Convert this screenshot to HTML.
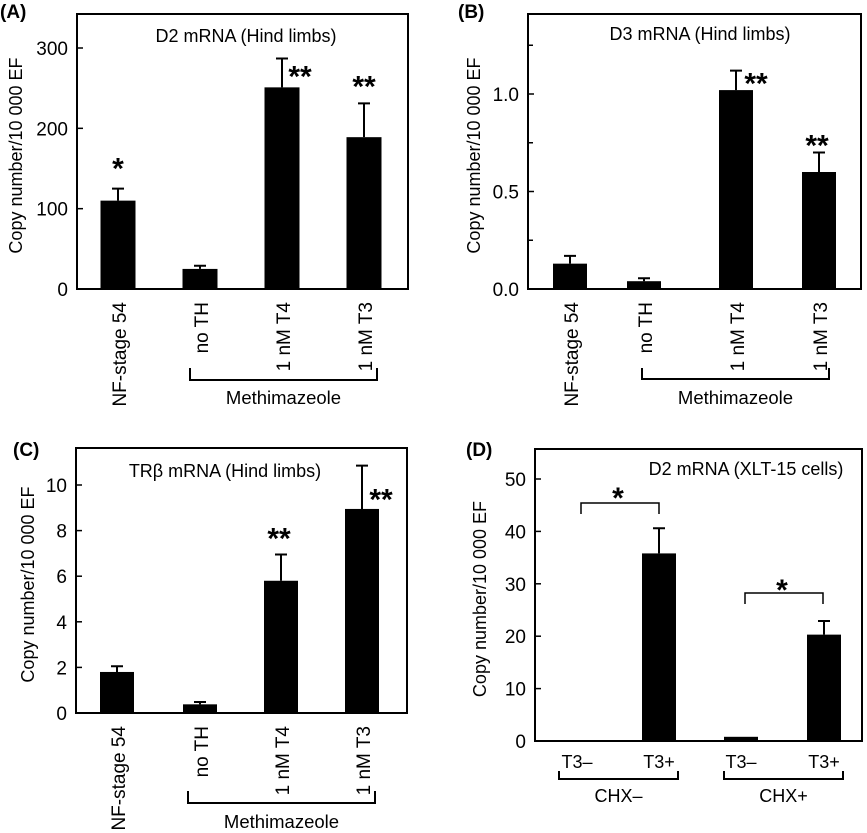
<!DOCTYPE html>
<html><head><meta charset="utf-8"><style>
html,body{margin:0;padding:0;background:#fff;}
svg{display:block;font-family:"Liberation Sans",Arial,sans-serif;}
</style></head><body>
<svg id="fig" width="867" height="833" viewBox="0 0 867 833" xmlns="http://www.w3.org/2000/svg"></svg>
<script>
const catsABC = ["NF-stage 54","no TH","1 nM T4","1 nM T3"];
const valsA = [110, 25, 251, 189];
const errA = [125, 29, 287, 231];
const sigA = ["*", "", "**", "**"];
const ticksA = [0, 100, 200, 300];
const valsB = [0.13, 0.04, 1.02, 0.60];
const errB = [0.17, 0.055, 1.12, 0.70];
const sigB = ["", "", "**", "**"];
const ticksB = [0, 0.5, 1.0];
const ticksBLabels = ["0.0", "0.5", "1.0"];
const minorB = [0.25, 0.75, 1.25];
const valsC = [1.8, 0.38, 5.8, 8.95];
const errC = [2.05, 0.48, 6.95, 10.85];
const sigC = ["", "", "**", "**"];
const ticksC = [0, 2, 4, 6, 8, 10];
const catsD = ["T3–","T3+","T3–","T3+"];
const valsD = [0, 35.8, 0.8, 20.3];
const errD = [0, 40.6, 0, 22.9];
const ticksD = [0, 10, 20, 30, 40, 50];

const NS = "http://www.w3.org/2000/svg";
const svg = document.getElementById("fig");
function mk(tag, attrs, parent, text){
  const e = document.createElementNS(NS, tag);
  for (const k in attrs) e.setAttribute(k, attrs[k]);
  if (text !== undefined) e.textContent = text;
  (parent || svg).appendChild(e);
  return e;
}
function star(g, cx, cy, s){
  const t = mk("text", {x: cx, y: cy + 16, "font-size": 30, "font-weight": "bold", "text-anchor": "middle"}, g, s);
  
  
}

function panel(cfg){
  const g = mk("g", {});
  
  
  const y = v => cfg.y0 - v * (cfg.y0 - cfg.yTop) / cfg.vTop;
  const L = mk("text", {x: cfg.letterX, y: cfg.letterY, "font-size": 19, "font-weight": "bold"}, g, cfg.letter);
  
  
  const fr = mk("rect", {x: cfg.x0, y: cfg.boxTop, width: cfg.x1 - cfg.x0, height: cfg.y0 - cfg.boxTop, fill: "none", stroke: "#000", "stroke-width": 2}, g);
  
  
  const t = mk("text", {x: cfg.titleX, y: cfg.titleY, "font-size": 18, "text-anchor": "middle"}, g, cfg.title);
  
  
  cfg.ticks.forEach((v, i) => {
    const yy = y(v);
    mk("line", {x1: cfg.x0, x2: cfg.x0 + 6, y1: yy, y2: yy, stroke: "#000", "stroke-width": 1.5}, g);
    const tl = mk("text", {x: cfg.x0 - 9, y: yy + 7, "font-size": 19, "text-anchor": "end"}, g, cfg.tickLabels ? cfg.tickLabels[i] : String(v));
    
    
  });
  (cfg.minor || []).forEach(v => {
    const yy = y(v);
    mk("line", {x1: cfg.x0, x2: cfg.x0 + 5, y1: yy, y2: yy, stroke: "#000", "stroke-width": 1.5}, g);
  });
  const ycx = cfg.yTitleX, ycy = (cfg.boxTop + cfg.y0) / 2 + 4;
  const yt = mk("text", {x: ycx, y: ycy, "font-size": 18, "text-anchor": "middle", transform: `rotate(-90 ${ycx} ${ycy})`}, g, "Copy number/10 000 EF");
  
  
  cfg.vals.forEach((v, i) => {
    const cx = cfg.centers[i], w = cfg.barW;
    const b = mk("rect", {x: cx - w/2, y: y(v), width: w, height: cfg.y0 - y(v), fill: "#000"}, g);
    
    
    if (cfg.err[i] > v) {
      const e = mk("path", {d: `M${cx} ${y(v)}V${y(cfg.err[i])}M${cx-6} ${y(cfg.err[i])}H${cx+6}`, stroke: "#000", "stroke-width": 2, fill: "none"}, g);
      
      
    }
    if (cfg.sig && cfg.sig[i]) {
      star(g, cx + cfg.sigDx[i], y(cfg.err[i]) + cfg.sigDy[i], cfg.sig[i]);
    }
  });
  if (cfg.rotated) cfg.cats.forEach((c, i) => {
    const cx = cfg.centers[i] + 8, ty = cfg.y0 + 13;
    const xl = mk("text", {x: cx, y: ty, "font-size": 19, "text-anchor": "end", transform: `rotate(-90 ${cx} ${ty})`}, g, c);
    
    
  });
  return {g, y};
}

const A = panel({name: "panel-a", letter: "(A)", letterX: 0, letterY: 18, x0: 77, x1: 408, boxTop: 14, y0: 289, yTop: 48, vTop: 300,
  title: "D2 mRNA (Hind limbs)", titleX: 246, titleY: 42, ticks: ticksA, yTitleX: 22, vals: valsA, err: errA, sig: sigA,
  centers: [118, 200, 282, 364], barW: 35, cats: catsABC, rotated: true,
  sigDx: [0, 0, 18, 0], sigDy: [-26, 0, 12, -23]});
const B = panel({name: "panel-b", letter: "(B)", letterX: 458, letterY: 18, x0: 528, x1: 861, boxTop: 14, y0: 289, yTop: 94, vTop: 1.0,
  title: "D3 mRNA (Hind limbs)", titleX: 700, titleY: 40, ticks: ticksB, tickLabels: ticksBLabels, minor: minorB, yTitleX: 480, vals: valsB, err: errB, sig: sigB,
  centers: [570, 644, 736, 819], barW: 34, cats: catsABC, rotated: true,
  sigDx: [0, 0, 20, -2], sigDy: [0, 0, 7, -13]});
const C = panel({name: "panel-c", letter: "(C)", letterX: 13, letterY: 456, x0: 76, x1: 407, boxTop: 448, y0: 713, yTop: 485, vTop: 10,
  title: "TRβ mRNA (Hind limbs)", titleX: 225, titleY: 477, ticks: ticksC, yTitleX: 34, vals: valsC, err: errC, sig: sigC,
  centers: [117, 200, 281, 362], barW: 34, cats: catsABC, rotated: true,
  sigDx: [0, 0, -2, 19], sigDy: [0, 0, -22, 28]});
const D = panel({name: "panel-d", letter: "(D)", letterX: 466, letterY: 456, x0: 535, x1: 862, boxTop: 449, y0: 741, yTop: 479, vTop: 50,
  title: "D2 mRNA (XLT-15 cells)", titleX: 746, titleY: 475, ticks: ticksD, yTitleX: 486, vals: valsD, err: errD, sig: null,
  centers: [577, 659, 741, 824], barW: 34, cats: catsD, rotated: false});

[[A.g, 190, 377, 368, 380, 404], [B.g, 642, 829, 368, 379, 404], [C.g, 188, 375, 791, 803, 828]].forEach(([g, xa, xb, yt, yb, ty]) => {
  const p = mk("path", {d: `M${xa} ${yt}V${yb}H${xb}V${yt}`, stroke: "#000", "stroke-width": 2, fill: "none"}, g);
  
  
  const t = mk("text", {x: (xa + xb) / 2, y: ty, "font-size": 18.5, "text-anchor": "middle"}, g, "Methimazeole");
  
  
});

catsD.forEach((c, i) => {
  const t = mk("text", {x: [577, 659, 741, 824][i], y: 768, "font-size": 18, "text-anchor": "middle"}, D.g, c);
  
  
});
[[559, 678, "CHX–"], [724, 843, "CHX+"]].forEach(([xa, xb, lab]) => {
  const p = mk("path", {d: `M${xa} 771V779H${xb}V771`, stroke: "#000", "stroke-width": 2, fill: "none"}, D.g);
  
  
  const t = mk("text", {x: (xa + xb) / 2, y: 802, "font-size": 18, "text-anchor": "middle"}, D.g, lab);
  
  
});
[[581, 659, 503, 514, 492], [745, 823, 593, 604, 584]].forEach(([xa, xb, yt, yb, sy]) => {
  const p = mk("path", {d: `M${xa} ${yb}V${yt}H${xb}V${yb}`, stroke: "#000", "stroke-width": 1.5, fill: "none"}, D.g);
  
  
  star(D.g, (xa + xb) / 2 - 2, sy, "*");
});
</script>
</body></html>
